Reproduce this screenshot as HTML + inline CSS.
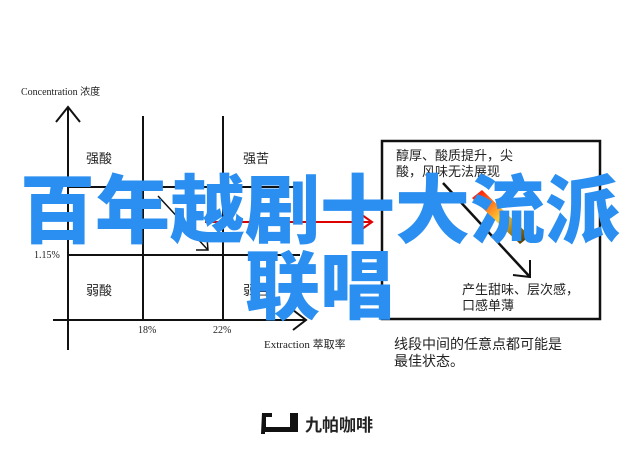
<!DOCTYPE html>
<html><head><meta charset="utf-8"><style>
body{margin:0;width:640px;height:460px;background:#fff;position:relative;overflow:hidden;font-family:"Liberation Sans","Noto Sans CJK SC",sans-serif}
.t{position:absolute;font-size:13px;color:#222;white-space:nowrap}
.m{font-family:"Liberation Serif","Noto Sans CJK SC",serif;font-size:10px}
.big{position:absolute;color:#2a8ff0;font-family:"Noto Sans CJK SC",sans-serif;font-weight:900;font-size:75px;line-height:75px;white-space:nowrap;letter-spacing:0px}
</style></head><body>
<svg width="640" height="460" style="position:absolute;left:0;top:0">
<defs><linearGradient id="g" x1="0" y1="0" x2="1" y2="1"><stop offset="0" stop-color="#f00"/><stop offset="0.5" stop-color="#fc3"/><stop offset="1" stop-color="#320"/></linearGradient></defs>
<g stroke="#111" stroke-width="2" fill="none">
<line x1="68" y1="107" x2="68" y2="350"/>
<polyline points="56,122 68,107 80,122"/>
<line x1="53" y1="320" x2="306" y2="320"/>
<polyline points="293,310 306,320 293,330"/>
<line x1="143" y1="116" x2="143" y2="320"/>
<line x1="223" y1="116" x2="223" y2="320"/>
<line x1="68" y1="187" x2="300" y2="187"/>
<line x1="68" y1="255" x2="300" y2="255"/>
<line x1="158" y1="196" x2="208" y2="250" stroke-width="1.5"/>
<polyline points="196,250 208,250 207,238" stroke-width="1.5"/>
<rect x="382" y="141" width="218" height="178" stroke-width="2.5"/>
<line x1="443" y1="183" x2="530" y2="277" stroke-width="2.5"/>
<polyline points="513,275 530,277 530,260" stroke-width="2"/>
</g>
<line x1="205" y1="222" x2="370" y2="222" stroke="#d00" stroke-width="2"/>
<polyline points="362,215 372,222 362,229" stroke="#d00" stroke-width="2" fill="none"/>
<polygon points="472,198 482,190 530,236 520,244" fill="url(#g)"/>
<path d="M262,413 h10 v4 h-6 v10 h24 v-14 h8 v19 h-33 v2 h-4 z" fill="#111"/>
</svg>
<div class="t m" style="left:21px;top:83px;font-size:10px">Concentration <span style="font-family:'Noto Sans CJK SC'">浓度</span></div>
<div class="t" style="left:86px;top:148px">强酸</div>
<div class="t" style="left:243px;148px;top:148px">强苦</div>
<div class="t" style="left:86px;top:280px">弱酸</div>
<div class="t" style="left:243px;top:280px">弱苦</div>
<div class="t m" style="left:34px;top:250px">1.15%</div>
<div class="t m" style="left:138px;top:325px">18%</div>
<div class="t m" style="left:213px;top:325px">22%</div>
<div class="t m" style="left:264px;top:336px;font-size:11px">Extraction <span style="font-family:'Noto Sans CJK SC'">萃取率</span></div>
<div class="t" style="left:396px;top:148px;line-height:16px">醇厚、酸质提升，尖<br>酸，风味无法展现</div>
<div class="t" style="left:462px;top:282px;line-height:16px">产生甜味、层次感，<br>口感单薄</div>
<div class="t" style="left:394px;top:336px;line-height:17px;font-size:14px">线段中间的任意点都可能是<br>最佳状态。</div>
<div class="t" style="left:305px;top:411px;font-size:17px;font-weight:bold;color:#222">九帕咖啡</div>
<div class="big" style="left:20px;top:167px">百年越剧十大流派</div>
<div class="big" style="left:245px;top:243px">联唱</div>
</body></html>
